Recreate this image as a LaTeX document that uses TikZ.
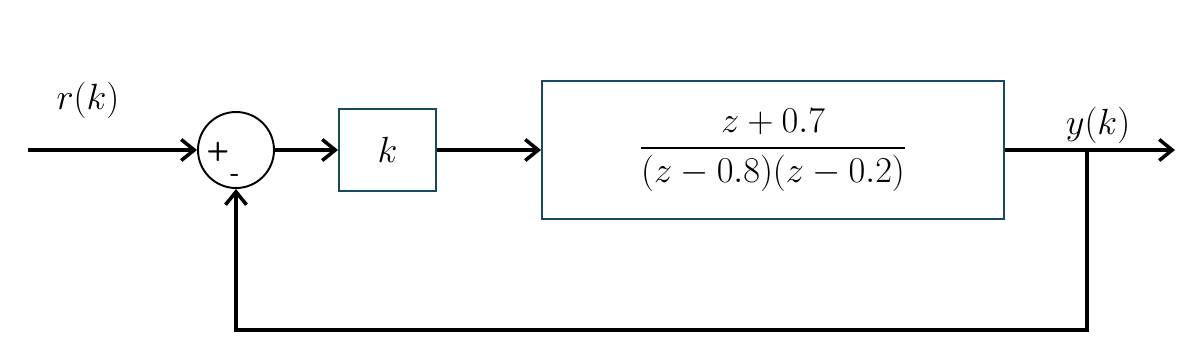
\documentclass[tikz,border=0pt]{standalone}
\usepackage{amsmath}
\usepackage{amssymb}
\usepackage{xcolor}
\usepackage{tikz}
\usetikzlibrary{arrows.meta,positioning}
\definecolor{boxteal}{RGB}{22,74,96}

\begin{document}
\begin{tikzpicture}[
  blockbox/.style={draw=boxteal, line width=1.1pt, inner sep=0pt},
  sumnode/.style={draw, circle, line width=1.1pt, minimum size=1.52cm, inner sep=0pt},
  sig/.style={line width=2pt, -{Straight Barb[length=2.6mm, width=4.2mm, line width=2pt]}},
  lbl/.style={font=\fontsize{22}{26}\selectfont},
  fraclbl/.style={font=\fontsize{20.5}{24}\selectfont},
  sgn/.style={font=\sffamily\bfseries\fontsize{15}{18}\selectfont}]
  \useasboundingbox (0,0) rectangle (23.92,7.06);
  \node[sumnode] (sum) at (4.72,4.06) {};
  \node[blockbox, lbl, minimum width=1.94cm, minimum height=1.64cm] (gain) at (7.75,4.06) {$k$};
  \node[blockbox, fraclbl, minimum width=9.24cm, minimum height=2.76cm] (plant) at (15.46,4.06) {$\dfrac{z+0.7}{(z-0.8)(z-0.2)}$};
  \coordinate (in) at (0.56,4.06);
  \coordinate (out) at (23.5,4.06);
  \coordinate (branch) at (21.74,4.06);
  \coordinate (fbcorner) at (21.74,0.46);
  \node[sgn] (plus) at (4.36,4.02) {+};
  \node[sgn] (minus) at (4.70,3.50) {-};
  \node[lbl] (ref) at (1.76,5.06) {$r(k)$};
  \node[lbl] (outlbl) at (21.96,4.56) {$y(k)$};
  \draw[sig] (in) -- (sum.west);
  \draw[sig] (sum.east) -- (gain.west);
  \draw[sig] (gain.east) -- (plant.west);
  \draw[sig] (plant.east) -- (out);
  \draw[sig, line join=miter] (branch) -- (fbcorner) -| (sum.south);
\end{tikzpicture}
\end{document}
